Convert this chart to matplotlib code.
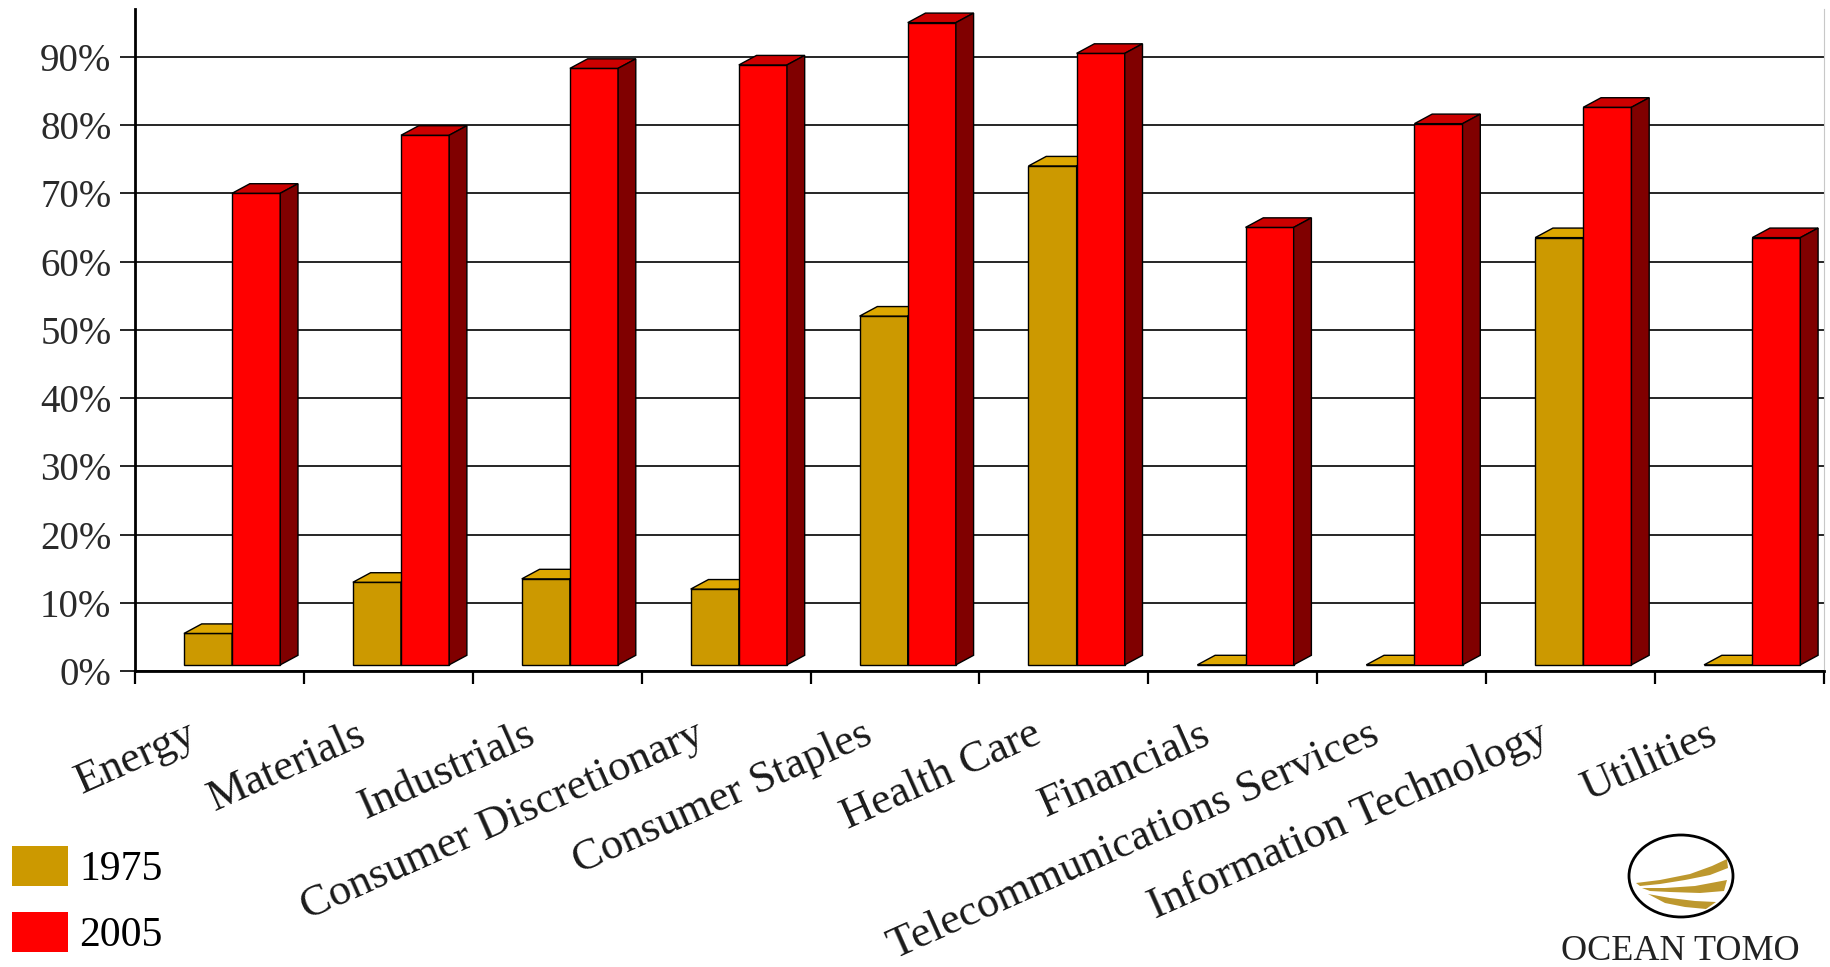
import matplotlib
matplotlib.use('Agg')
import matplotlib.pyplot as plt
from matplotlib.patches import Polygon, Patch, Ellipse
from matplotlib.transforms import ScaledTranslation
import numpy as np

plt.rcParams['font.family'] = ['Liberation Serif', 'DejaVu Serif']

# data (percent)
sectors = ['Energy', 'Materials', 'Industrials', 'Consumer Discretionary',
           'Consumer Staples', 'Health Care', 'Financials',
           'Telecommunications Services', 'Information Technology', 'Utilities']
share_1975 = [5.5, 13, 13.5, 12, 52, 74, 0, 0, 63.5, 0]
share_2005 = [70, 78.5, 88.3, 88.8, 95, 90.5, 65, 80.2, 82.6, 63.5]
yticks = list(range(0, 100, 10))
series_names = ['1975', '2005']

gold, gold_top, gold_side = '#CC9900', '#DDA700', '#8A6800'
red, red_top, red_side = '#FF0000', '#CC0000', '#800000'

W, H = 1830, 967
fig = plt.figure(figsize=(W / 100, H / 100), dpi=100)
ax = fig.add_axes([135 / W, 1 - 671 / H, (1824 - 135) / W, (671 - 9) / H])
ax.set_xlim(0, 10)
ax.set_ylim(0, 97)

# 3d look: depth offset in data units
dx, dy = 0.105, 1.4
floor = 0.9
bw = 0.285
x = np.arange(len(sectors))


def bars3d(left, vals, front, top, side, z):
    vals = np.maximum(np.array(vals, dtype=float), floor)
    ax.bar(left, vals - floor, bottom=floor, width=bw, align='edge',
           color=front, edgecolor='black', linewidth=1.0, zorder=z)
    for l, v in zip(left, vals):
        r = l + bw
        ax.add_patch(Polygon([(l, v), (l + dx, v + dy), (r + dx, v + dy), (r, v)],
                             closed=True, fc=top, ec='black', lw=1.0, zorder=z + 0.1))
        ax.add_patch(Polygon([(r, floor), (r + dx, floor + dy), (r + dx, v + dy), (r, v)],
                             closed=True, fc=side, ec='black', lw=1.0, zorder=z + 0.1))


bars3d(x + 0.29, share_1975, gold, gold_top, gold_side, 3)
bars3d(x + 0.575, share_2005, red, red_top, red_side, 4)

# y axis
ax.set_yticks(yticks)
ax.set_yticklabels([f'{v}%' for v in yticks], fontsize=28, color='#2a2a2a')
ax.yaxis.grid(True, color='black', linewidth=1.2)
ax.set_axisbelow(True)
ax.tick_params(axis='y', length=11, width=1.2, pad=6)

# x axis: boundary ticks, centred labels
ax.set_xticks(np.arange(11), minor=True)
ax.set_xticks(x + 0.5)
ax.set_xticklabels(sectors, fontsize=32, rotation=24, ha='right',
                   rotation_mode='anchor', color='#1a1a1a')
ax.tick_params(axis='x', which='major', length=0, pad=31)
ax.tick_params(axis='x', which='minor', length=9, width=1.6)
for lab in ax.get_xticklabels():
    lab.set_transform(lab.get_transform() + ScaledTranslation(-0.33, 0, fig.dpi_scale_trans))

ax.spines['top'].set_visible(False)
ax.spines['right'].set_color('#c8c8c8')
ax.spines['left'].set_linewidth(2)
ax.spines['bottom'].set_linewidth(2)

# legend
handles = [Patch(facecolor=gold, edgecolor='none'), Patch(facecolor=red, edgecolor='none')]
fig.legend(handles, series_names, loc='lower left', bbox_to_anchor=(12 / W, 12 / H),
           frameon=False, fontsize=30, handlelength=1.34, handleheight=1.1,
           handletextpad=0.28, labelspacing=0.55, borderpad=0, borderaxespad=0)

# logo
lax = fig.add_axes([1553 / W, 1 - 964 / H, (1807 - 1553) / W, (964 - 833) / H])
lax.set_xlim(1553, 1807)
lax.set_ylim(964, 833)
lax.axis('off')
lax.add_patch(Ellipse((1681, 876), 104, 82, fill=False, ec='black', lw=2))
logo_gold = '#BD982E'
swooshes = [
    [(1636, 883), (1660, 880), (1690, 874), (1712, 866), (1727, 859),
     (1728, 868), (1710, 875), (1685, 880), (1660, 884), (1640, 886)],
    [(1642, 888), (1665, 888), (1695, 886), (1727, 880),
     (1724, 891), (1700, 893), (1670, 892), (1650, 891)],
    [(1648, 894), (1670, 898), (1695, 901), (1716, 902),
     (1706, 909), (1685, 907), (1665, 903)],
]
for pts in swooshes:
    lax.add_patch(Polygon(pts, closed=True, fc=logo_gold, ec='none'))
lax.text(1680, 951, 'OCEAN TOMO', ha='center', va='center', fontsize=26, color='#222222')

fig.savefig('out.png', dpi=100)
plt.close(fig)
